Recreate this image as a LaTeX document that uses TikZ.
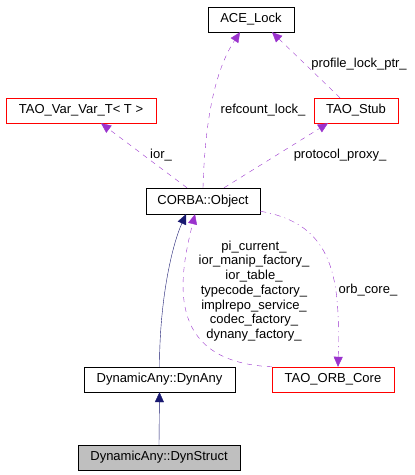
\documentclass[tikz,border=0pt]{standalone}
\usepackage{fontspec}
\setmainfont{Liberation Sans}
\usetikzlibrary{positioning,arrows.meta}
\definecolor{navyline}{HTML}{191970}
\definecolor{usageline}{HTML}{9A32CD}
\tikzset{%
  every class/.style={
    rectangle,
    draw,
    minimum height=25pt,
    inner sep=0pt,
    font=\fontsize{13}{15}\selectfont
  },
  class ref/.style={every class, draw=red},
  class leaf/.style={every class, fill=gray!50},
  inherit/.style={draw=navyline, -{Triangle[length=10pt,width=9pt,fill=navyline]}},
  member/.style={draw=usageline, dash pattern=on 5pt off 5pt, -{Triangle[length=10pt,width=9pt,fill=usageline]}},
  member label/.style={font=\fontsize{13}{14.7}\selectfont, align=center, inner sep=0pt},
}

\begin{document}
\begin{tikzpicture}[x=1pt, y=-1pt]
\useasboundingbox (0,0) rectangle (415,475);
\node[every class, minimum width=86pt] (ace) at (251,19.5) {ACE\_Lock};
\node[class ref, minimum width=150pt] (varvar) at (81,110.5) {TAO\_Var\_Var\_T< T >};
\node[class ref, minimum width=84pt] (stub) at (356,110.5) {TAO\_Stub};
\node[every class, minimum width=114pt, minimum height=26pt] (corba) at (203,201) {CORBA::Object};
\node[every class, minimum width=151pt] (dynany) at (159.5,379.5) {DynamicAny::DynAny};
\node[class ref, minimum width=122pt] (orbcore) at (333,379.5) {TAO\_ORB\_Core};
\node[class leaf, minimum width=162pt] (dynstruct) at (159,457.5) {DynamicAny::DynStruct};

% inheritance
\draw[inherit] (dynstruct.north) -- (dynany.south);
\draw[inherit] (dynany.north) .. controls +(0,-67) and +(-14,31) .. ([xshift=-17pt]corba.south);

% members
\draw[member] (corba.north) .. controls +(2,-68) and +(-25,38) .. ([xshift=-11pt]ace.south);
\draw[member] ([xshift=-16pt]stub.north) -- ([xshift=21pt]ace.south);
\draw[member] ([xshift=-16pt]corba.north) -- ([xshift=20pt]varvar.south);
\draw[member] ([xshift=21pt]corba.north) -- ([xshift=-28pt]stub.south);
\draw[member] (orbcore.north west) .. controls +(-110,-5) and +(-15,60) .. ([xshift=-8pt]corba.south);
\draw[member, dash pattern=on 6pt off 4pt on 1pt off 4pt] ([yshift=3pt]corba.south east) .. controls +(75,13) and +(2,-87) .. ([xshift=5pt]orbcore.north);

\node[member label] (lrefcount) at (263,110) {refcount\_lock\_};
\node[member label] (lprofile) at (359,64) {profile\_lock\_ptr\_};
\node[member label] (lior) at (161,155) {ior\_};
\node[member label] (lproxy) at (340,155) {protocol\_proxy\_};
\node[member label] (lorbcore) at (368,290) {orb\_core\_};
\node[member label] (lservices) at (254,291) {pi\_current\_\\ior\_manip\_factory\_\\ior\_table\_\\typecode\_factory\_\\implrepo\_service\_\\codec\_factory\_\\dynany\_factory\_};
\end{tikzpicture}
\end{document}
